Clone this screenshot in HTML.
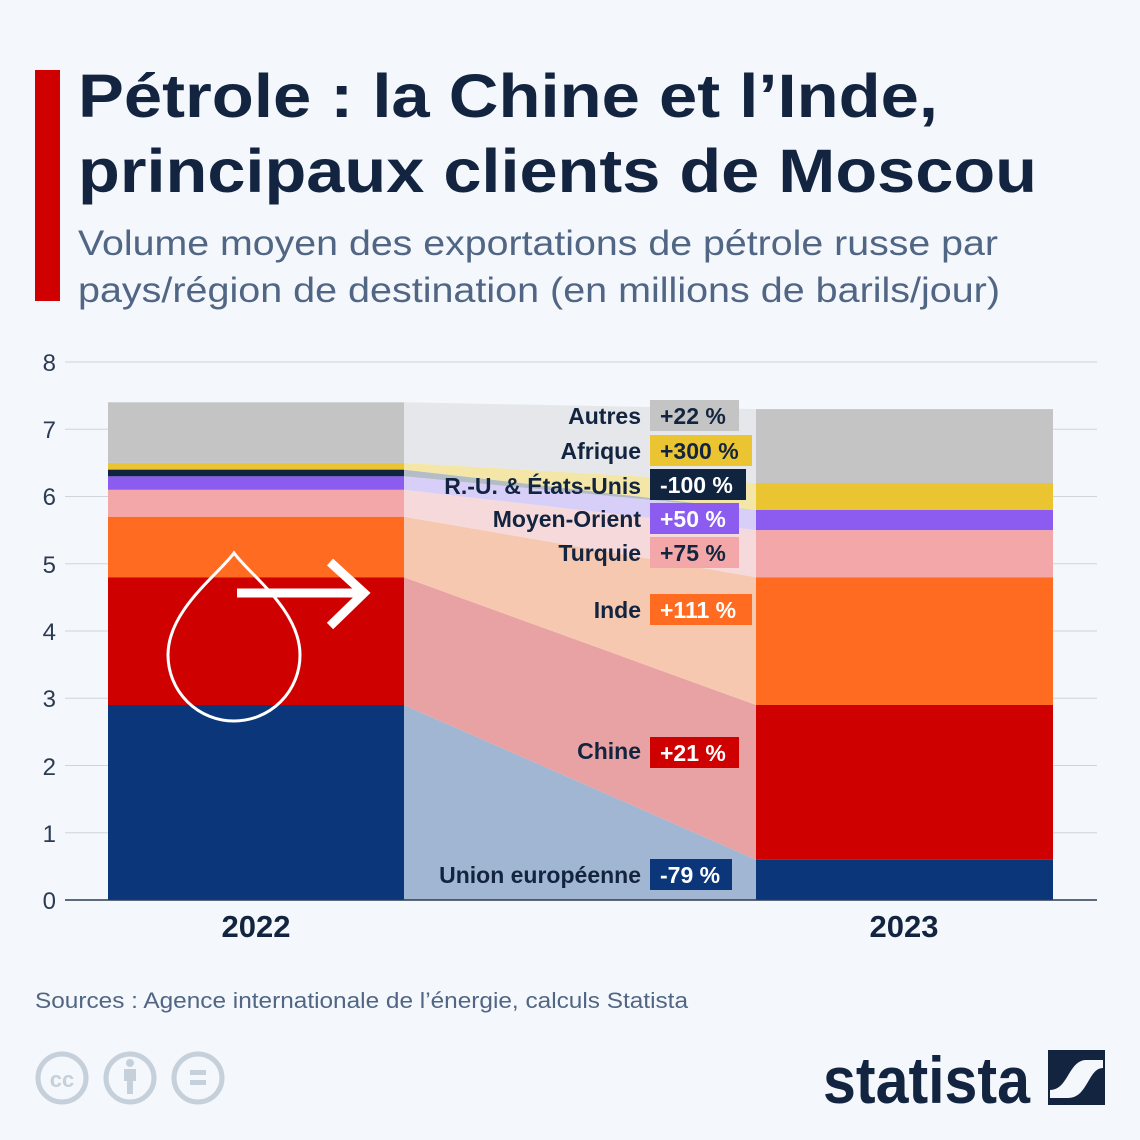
<!DOCTYPE html>
<html><head><meta charset="utf-8"><style>
body{margin:0;background:#f4f7fb;}
svg{display:block;font-family:"Liberation Sans",sans-serif;}
</style></head><body>
<svg width="1140" height="1140" viewBox="0 0 1140 1140" xmlns="http://www.w3.org/2000/svg">
<rect width="1140" height="1140" fill="#f4f7fb"/>
<rect x="35" y="70" width="25" height="231" fill="#d10000"/>
<text x="78" y="117" font-size="61" font-weight="bold" fill="#12243f" textLength="860" lengthAdjust="spacingAndGlyphs">Pétrole : la Chine et l’Inde,</text>
<text x="78" y="192" font-size="61" font-weight="bold" fill="#12243f" textLength="959" lengthAdjust="spacingAndGlyphs">principaux clients de Moscou</text>
<text x="78" y="255" font-size="35" fill="#506684" textLength="920" lengthAdjust="spacingAndGlyphs">Volume moyen des exportations de pétrole russe par</text>
<text x="78" y="302" font-size="35" fill="#506684" textLength="922" lengthAdjust="spacingAndGlyphs">pays/région de destination (en millions de barils/jour)</text>
<g stroke="#cfd5dd" stroke-width="1">
<line x1="65" y1="362" x2="1097" y2="362"/><line x1="65" y1="429.25" x2="1097" y2="429.25"/>
<line x1="65" y1="496.5" x2="1097" y2="496.5"/><line x1="65" y1="563.75" x2="1097" y2="563.75"/>
<line x1="65" y1="631" x2="1097" y2="631"/><line x1="65" y1="698.25" x2="1097" y2="698.25"/>
<line x1="65" y1="765.5" x2="1097" y2="765.5"/><line x1="65" y1="832.75" x2="1097" y2="832.75"/>
</g>
<g font-size="24" fill="#2b3b52" text-anchor="end">
<text x="56" y="371">8</text><text x="56" y="438">7</text><text x="56" y="505">6</text><text x="56" y="573">5</text>
<text x="56" y="640">4</text><text x="56" y="707">3</text><text x="56" y="775">2</text><text x="56" y="842">1</text><text x="56" y="909">0</text>
</g>
<polygon points="404,900 404,705 756,859.65 756,900" fill="#a1b6d2"/>
<polygon points="404,705 404,577.2 756,705 756,859.65" fill="#e8a2a3"/>
<polygon points="404,577.2 404,516.7 756,577.2 756,705" fill="#f7c8b0"/>
<polygon points="404,516.7 404,489.8 756,530.1 756,577.2" fill="#f6d9da"/>
<polygon points="404,489.8 404,476.3 756,510 756,530.1" fill="#d8cff8"/>
<polygon points="404,476.3 404,469.6 756,510 756,510" fill="#b4bcc6"/>
<polygon points="404,469.6 404,462.9 756,483 756,510" fill="#f4e6a6"/>
<polygon points="404,462.9 404,402.3 756,409.1 756,483" fill="#e5e7ea"/>
<rect x="108" y="705" width="296" height="195" fill="#0b377a"/>
<rect x="108" y="577.2" width="296" height="127.8" fill="#cf0000"/>
<rect x="108" y="516.7" width="296" height="60.5" fill="#ff6b21"/>
<rect x="108" y="489.8" width="296" height="26.9" fill="#f4a7a8"/>
<rect x="108" y="476.3" width="296" height="13.5" fill="#8c5cf0"/>
<rect x="108" y="469.6" width="296" height="6.7" fill="#10243f"/>
<rect x="108" y="462.9" width="296" height="6.7" fill="#ebc431"/>
<rect x="108" y="402.3" width="296" height="60.6" fill="#c4c4c4"/>
<rect x="756" y="859.65" width="297" height="40.35" fill="#0b377a"/>
<rect x="756" y="705" width="297" height="154.65" fill="#cf0000"/>
<rect x="756" y="577.2" width="297" height="127.8" fill="#ff6b21"/>
<rect x="756" y="530.1" width="297" height="47.1" fill="#f4a7a8"/>
<rect x="756" y="510" width="297" height="20.1" fill="#8c5cf0"/>
<rect x="756" y="483" width="297" height="27" fill="#ebc431"/>
<rect x="756" y="409.1" width="297" height="73.9" fill="#c4c4c4"/>
<line x1="65" y1="900" x2="1097" y2="900" stroke="#2b3b52" stroke-width="1.5"/>
<path d="M234,553 C250,575 300,610 300,655 A66,66 0 0 1 168,655 C168,610 218,575 234,553 Z" fill="none" stroke="#fff" stroke-width="3"/>
<path d="M237,593 L362,593 M330,562 L364,593 L330,626" fill="none" stroke="#fff" stroke-width="9" stroke-linejoin="miter"/>
<g font-size="23" font-weight="bold" fill="#12243f" text-anchor="end">
<text x="641" y="424">Autres</text><text x="641" y="459">Afrique</text><text x="641" y="494">R.-U. &amp; États-Unis</text>
<text x="641" y="527">Moyen-Orient</text><text x="641" y="561">Turquie</text><text x="641" y="618">Inde</text>
<text x="641" y="759">Chine</text><text x="641" y="883">Union européenne</text>
</g>
<rect x="650" y="400" width="89" height="31" fill="#c4c4c4"/>
<rect x="650" y="435" width="102" height="31" fill="#ebc431"/>
<rect x="650" y="469" width="96" height="31" fill="#10243f"/>
<rect x="650" y="503" width="89" height="31" fill="#8c5cf0"/>
<rect x="650" y="537" width="89" height="31" fill="#f4a7a8"/>
<rect x="650" y="594" width="102" height="31" fill="#ff6b21"/>
<rect x="650" y="737" width="89" height="31" fill="#cf0000"/>
<rect x="650" y="859" width="82" height="31" fill="#0b377a"/>
<g font-size="23" font-weight="bold">
<text x="660" y="424" fill="#12243f">+22 %</text><text x="660" y="459" fill="#12243f">+300 %</text>
<text x="660" y="493" fill="#fff">-100 %</text><text x="660" y="527" fill="#fff">+50 %</text>
<text x="660" y="561" fill="#12243f">+75 %</text><text x="660" y="618" fill="#fff">+111 %</text>
<text x="660" y="761" fill="#fff">+21 %</text><text x="660" y="883" fill="#fff">-79 %</text>
</g>
<text x="256" y="937" font-size="31" font-weight="bold" fill="#12243f" text-anchor="middle">2022</text>
<text x="904" y="937" font-size="31" font-weight="bold" fill="#12243f" text-anchor="middle">2023</text>
<text x="35" y="1008" font-size="22" fill="#506684" textLength="653" lengthAdjust="spacingAndGlyphs">Sources : Agence internationale de l’énergie, calculs Statista</text>
<g fill="none" stroke="#c5d0da" stroke-width="5">
<circle cx="62" cy="1078" r="24"/><circle cx="130" cy="1078" r="24"/><circle cx="198" cy="1078" r="24"/>
</g>
<text x="62" y="1087" font-size="22" font-weight="bold" fill="#c5d0da" text-anchor="middle">cc</text>
<circle cx="130" cy="1063" r="4" fill="#c5d0da"/>
<rect x="124" y="1069" width="12" height="12" fill="#c5d0da"/><rect x="127" y="1080" width="6" height="14" fill="#c5d0da"/>
<rect x="190" y="1070" width="16" height="5" fill="#c5d0da"/><rect x="190" y="1080" width="16" height="5" fill="#c5d0da"/>
<text x="1030" y="1103" font-size="66" font-weight="bold" fill="#12243f" text-anchor="end" textLength="207" lengthAdjust="spacingAndGlyphs">statista</text>
<rect x="1048" y="1050" width="57" height="55" fill="#12243f"/>
<path d="M1050,1090 C1068,1090 1068,1062 1085,1060 L1103,1060 L1103,1068 C1088,1068 1088,1098 1068,1098 L1050,1098 Z" fill="#f4f7fb"/>
</svg>
</body></html>
